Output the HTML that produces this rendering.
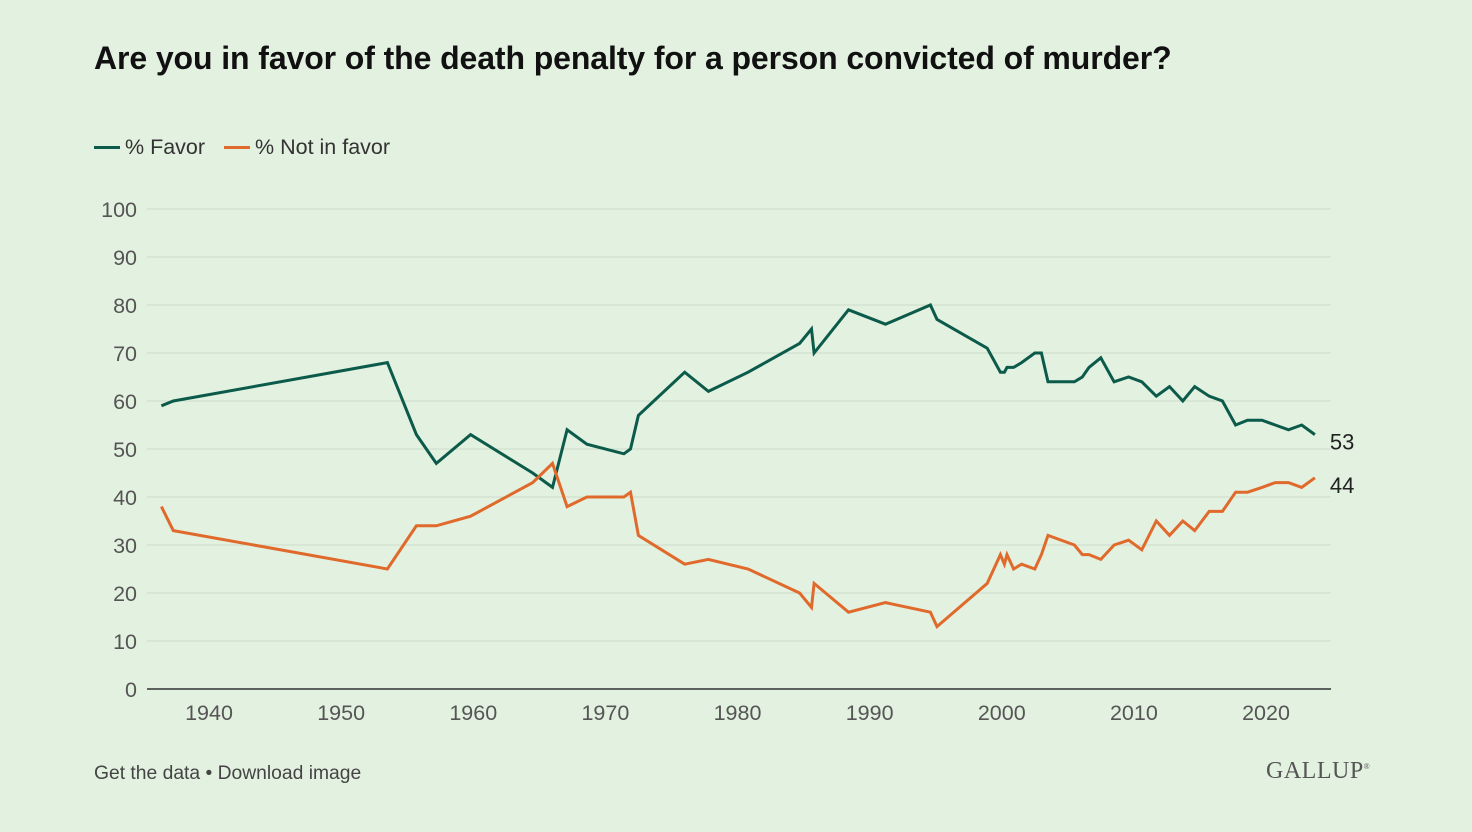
<!DOCTYPE html>
<html><head><meta charset="utf-8"><style>
body{margin:0;background:#e3f1e0;font-family:"Liberation Sans",sans-serif;}
#wrap{position:relative;width:1472px;height:832px;background:#e3f1e0;overflow:hidden}
h1{position:absolute;left:94px;top:40px;margin:0;font-size:32px;font-weight:bold;color:#111;letter-spacing:-0.1px;white-space:nowrap}
.leg{position:absolute;top:135px;font-size:21.5px;color:#333;display:flex;align-items:center}
.leg span.sw{display:inline-block;width:26px;height:3px;margin-right:5px}
.foot{position:absolute;left:94px;top:763px;font-size:19.3px;color:#444}
.logo{position:absolute;left:1266px;top:758px;font-family:"Liberation Serif",serif;font-size:24px;color:#555;letter-spacing:0.5px}
</style></head><body>
<div id="wrap">
<h1>Are you in favor of the death penalty for a person convicted of murder?</h1>
<div class="leg" style="left:94px"><span class="sw" style="background:#0b5a4a"></span>% Favor</div>
<div class="leg" style="left:224px"><span class="sw" style="background:#e06a2c"></span>% Not in favor</div>
<svg id="chart" width="1472" height="832" style="position:absolute;left:0;top:0"></svg>
<div class="foot">Get the data • Download image</div>
<div class="logo">GALLUP<sup style="font-size:8px">®</sup></div>
</div>
<script>
const years=[1936.4,1937.3,1953.5,1955.7,1957.2,1959.8,1964.5,1966,1967.1,1968.6,1971.4,1971.9,1972.5,1976,1977.8,1980.8,1984.7,1985.6,1985.8,1988.4,1991.2,1994.6,1995.1,1998.9,1999.9,2000.2,2000.4,2000.9,2001.5,2002.5,2003,2003.5,2005.5,2006.1,2006.6,2007.5,2008.5,2009.6,2010.6,2011.7,2012.7,2013.7,2014.6,2015.7,2016.7,2017.7,2018.6,2019.7,2020.7,2021.7,2022.7,2023.7];
const favor=[59,60,68,53,47,53,45,42,54,51,49,50,57,66,62,66,72,75,70,79,76,80,77,71,66,66,67,67,68,70,70,64,64,65,67,69,64,65,64,61,63,60,63,61,60,55,56,56,55,54,55,53];
const notFavor=[38,33,25,34,34,36,43,47,38,40,40,41,32,26,27,25,20,17,22,16,18,16,13,22,28,26,28,25,26,25,28,32,30,28,28,27,30,31,29,35,32,35,33,37,37,41,41,42,43,43,42,44];
const yTicks=[0,10,20,30,40,50,60,70,80,90,100];
const xTicks=[1940,1950,1960,1970,1980,1990,2000,2010,2020];
const NS="http://www.w3.org/2000/svg";
const svg=document.getElementById('chart');
const X=y=>209+(y-1940)*13.2125;
const Y=v=>689-v*4.8;
function mk(t,a){const e=document.createElementNS(NS,t);for(const k in a)e.setAttribute(k,a[k]);svg.appendChild(e);return e;}
yTicks.forEach(v=>{
  const l=mk('line',{x1:147,x2:1331,y1:Y(v),y2:Y(v),stroke:v===0?'#333':'#cbdcca','stroke-width':v===0?1.5:1});
  
  
  const t=mk('text',{x:137,y:Y(v)+8,'text-anchor':'end','font-size':21.5,fill:'#555','font-family':'Liberation Sans'});
  t.textContent=v;
  
  
});
xTicks.forEach(v=>{
  const t=mk('text',{x:X(v),y:720,'text-anchor':'middle','font-size':21.5,fill:'#555','font-family':'Liberation Sans'});
  t.textContent=v;
  
  
});
function line(vals,color,name){
  const d=vals.map((v,i)=>(i?'L':'M')+X(years[i]).toFixed(1)+','+Y(v).toFixed(1)).join('');
  const p=mk('path',{d:d,fill:'none',stroke:color,'stroke-width':3,'stroke-linejoin':'miter'});
  
  
  const n=vals.length-1;
  const t=mk('text',{x:X(years[n])+15,y:Y(vals[n])+15,'font-size':22,fill:'#222','font-family':'Liberation Sans'});
  t.textContent=vals[n];
  
  
}
line(favor,'#0b5a4a','favor-line');
line(notFavor,'#e06a2c','not-in-favor-line');
</script>
</body></html>
